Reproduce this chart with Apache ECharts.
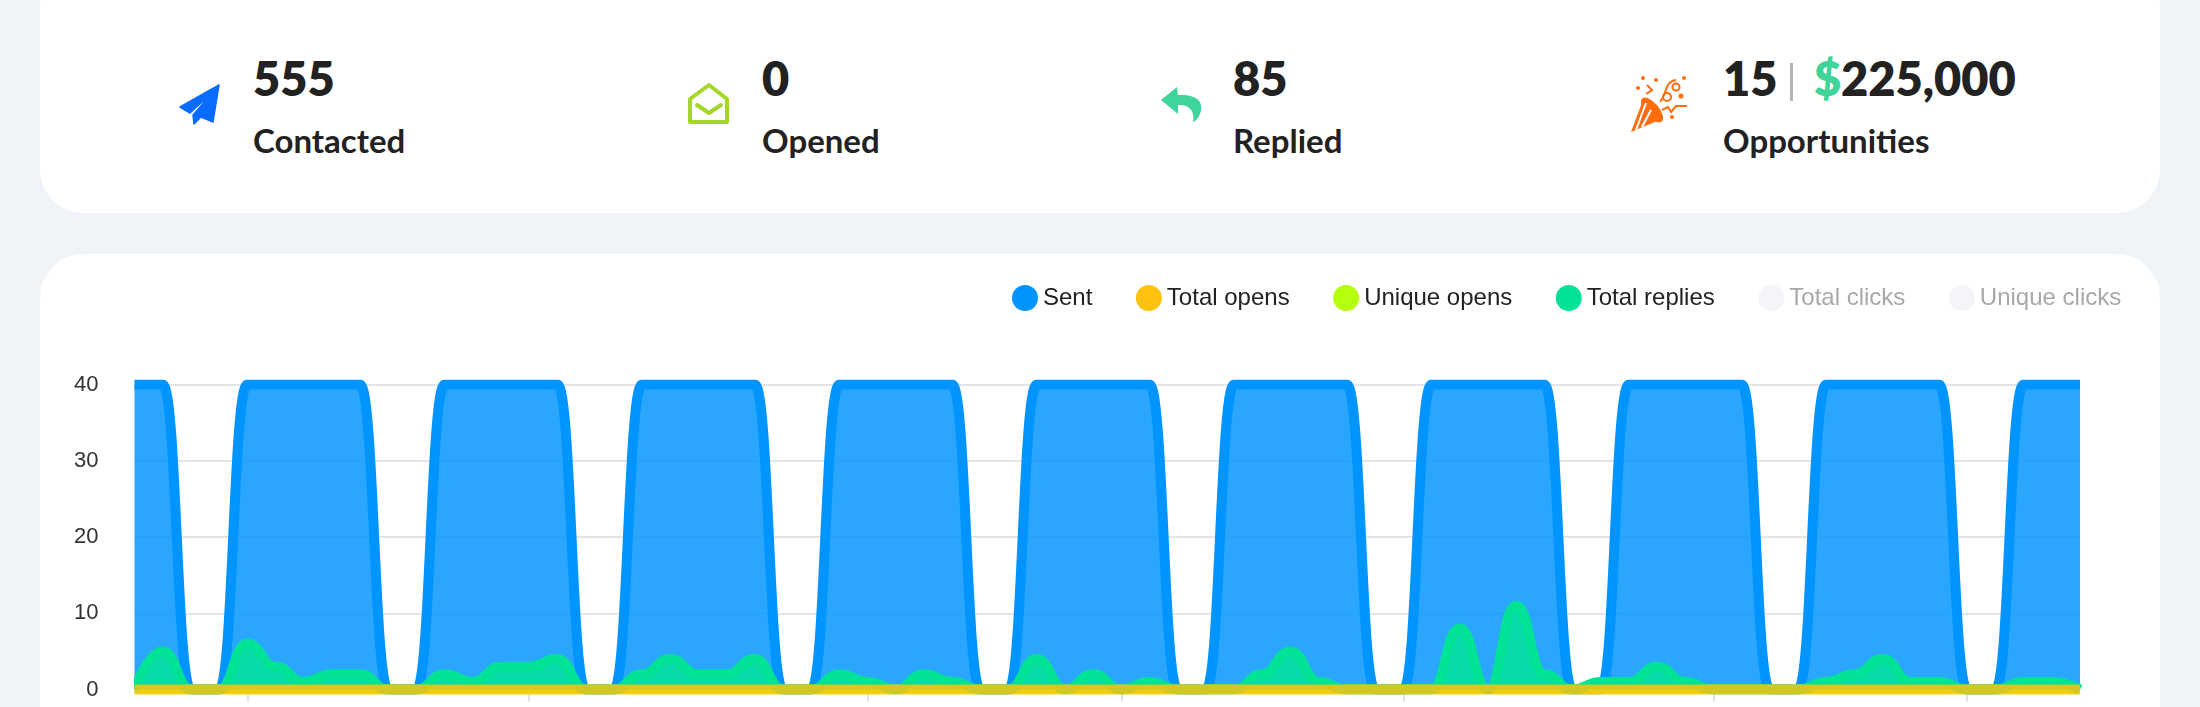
<!DOCTYPE html>
<html><head><meta charset="utf-8">
<script src="https://cdn.jsdelivr.net/npm/echarts@6/dist/echarts.min.js"></script>
<style>
html,body{margin:0;padding:0;width:2200px;height:707px;overflow:hidden;background:#f0f4f9;}
.card{position:absolute;left:40px;width:2120px;background:#fff;border-radius:44px;}
.t{position:absolute;font-family:Lato,sans-serif;font-weight:700;color:#222;white-space:nowrap;line-height:1;}
.num{font-size:47px;top:55px;font-weight:800;}
.lab{font-size:33px;top:124px;}
#chart{position:absolute;left:0;top:0;width:2200px;height:707px;}
svg{position:absolute;left:0;top:0;}
</style></head><body>
<div class="card" style="top:-40px;height:253px"></div>
<div class="card" style="top:254px;height:600px"></div>
<svg width="2200" height="213">
<path d="M219 85 L180 107 L190 113 L213 92 L193 115 L194 124 L201 117 L213 122 Z" fill="#0a6cff" stroke="#0a6cff" stroke-width="1.5" stroke-linejoin="round"/>
<path d="M709 85 L690 99 L690 122 L727 122 L727 99 Z" fill="none" stroke="#a5d62a" stroke-width="4" stroke-linejoin="round"/>
<path d="M697 105 L709 113 L721 105" fill="none" stroke="#a5d62a" stroke-width="4" stroke-linecap="round" stroke-linejoin="round"/>
<path d="M1161 100 L1177 87 L1178 95 C1194 94 1203 100 1201 110 C1200 116 1197 120 1193 122 C1195 112 1190 104 1178 105 L1178 114 Z" fill="#3fd49a"/>
<g fill="#ff6d0d" stroke="none">
<path d="M1631 132 L1643 100 L1662 119 Z"/>
<ellipse cx="1652" cy="110" rx="7" ry="15" transform="rotate(-40 1652 110)"/>
<path d="M1636 130 L1646 103" stroke="#fff" stroke-width="2"/>
<path d="M1642 127 L1651 110" stroke="#fff" stroke-width="2"/>
<circle cx="1638" cy="88" r="2"/><circle cx="1656" cy="80" r="2"/><circle cx="1684" cy="78" r="2"/><circle cx="1672" cy="117" r="2"/><circle cx="1643" cy="78" r="2"/><circle cx="1681" cy="96" r="2.5"/>
</g>
<g fill="none" stroke="#ff6d0d" stroke-width="2">
<path d="M1647 85 L1652 90 L1646 94"/><path d="M1660 102 C1668 92 1664 82 1676 80"/><circle cx="1667" cy="97" r="4"/><circle cx="1676" cy="87" r="3.5"/>
<path d="M1662 110 L1668 107 L1671 112 L1676 106 L1687 106"/>
</g>
<rect x="1790" y="63" width="3" height="38" fill="#b4b4b4"/>
</svg>
<div id="kpi"></div>
<div id="chart"></div>
<script>
const kpiLabels = ["Contacted", "Opened", "Replied", "Opportunities"];
const kpiNumbers = ["555", "0", "85", "15"];
const kpiLefts = [253, 762, 1233, 1723];
const revenueSign = "$";
const revenueValue = "225,000";

const categories = ["1","2","3","4","5","6","7","8","9","10","11","12","13","14","15","16","17","18","19","20","21","22","23","24","25","26","27","28","29","30","31","32","33","34","35","36","37","38","39","40","41","42","43","44","45","46","47","48","49","50","51","52","53","54","55","56","57","58","59","60","61","62","63","64","65","66","67","68","69","70"];
const tickIndexes = [4,14,26,35,45,56,65];
const yTicks = [0,10,20,30,40];
const sent = [40,40,0,0,40,40,40,40,40,0,0,40,40,40,40,40,0,0,40,40,40,40,40,0,0,40,40,40,40,40,0,0,40,40,40,40,40,0,0,40,40,40,40,40,0,0,40,40,40,40,40,0,0,40,40,40,40,40,0,0,40,40,40,40,40,0,0,40,40,40];
const totalOpens = [0,0,0,0,0,0,0,0,0,0,0,0,0,0,0,0,0,0,0,0,0,0,0,0,0,0,0,0,0,0,0,0,0,0,0,0,0,0,0,0,0,0,0,0,0,0,0,0,0,0,0,0,0,0,0,0,0,0,0,0,0,0,0,0,0,0,0,0,0,0];
const uniqueOpens = totalOpens.slice();
const totalReplies = [0,5,0,0,6,3,1,2,2,0,0,2,1,3,3,4,0,0,2,4,2,2,4,0,0,2,1,0,2,1,0,0,4,0,2,0,1,0,0,0,2,5,1,0,0,0,0,8,0,11,2,0,1,1,3,1,0,0,0,0,1,2,4,1,1,0,0,1,1,0];
const totalClicks = totalOpens.slice();
const uniqueClicks = totalOpens.slice();
const legendOrder = ["Sent","Total opens","Unique opens","Total replies","Total clicks","Unique clicks"];
const hiddenSeries = ["Total clicks","Unique clicks"];

const kpi = document.getElementById('kpi');
function addText(cls, left, text, color){
  const d = document.createElement('div');
  d.className = 't ' + cls; d.style.left = left + 'px'; d.textContent = text;
  if(color) d.style.color = color;
  kpi.appendChild(d);
}
kpiLabels.forEach((l,i)=>{ addText('num',kpiLefts[i],kpiNumbers[i]); addText('lab',kpiLefts[i],l); });
addText('num',1814,revenueSign,'#3fd49a');
addText('num',1841,revenueValue);

function line(name,data,color,z,opts){
  return Object.assign({type:'line',name,data,smooth:0.5,smoothMonotone:'x',showSymbol:false,symbol:'none',z,
    itemStyle:{color},lineStyle:{color,width:10,cap:'butt',join:'round'},areaStyle:{color,opacity:0.83},silent:true},opts||{});
}
const selected = {}; hiddenSeries.forEach(n=>selected[n]=false);
const chart = echarts.init(document.getElementById('chart'),null,{renderer:'canvas'});
chart.setOption({
  animation:false,
  backgroundColor:'transparent',
  grid:{left:134.5,right:120,top:384.5,bottom:17.5,containLabel:false},
  legend:{
    left:1007,top:280,icon:'circle',itemWidth:26,itemHeight:26,itemGap:43.5,
    data:legendOrder,selected,inactiveColor:'#f3f5f9',inactiveBorderWidth:0,
    formatter:n=>hiddenSeries.includes(n)?`{off|${n}}`:`{on|${n}}`,
    textStyle:{fontFamily:'Liberation Sans',fontSize:24,rich:{
      on:{fontFamily:'Liberation Sans',fontSize:24,color:'#222'},
      off:{fontFamily:'Liberation Sans',fontSize:24,color:'#a8a8a8'}}}
  },
  xAxis:{type:'category',data:categories,boundaryGap:false,
    axisLine:{show:false},axisLabel:{show:false},
    axisTick:{show:true,length:12,alignWithLabel:true,interval:i=>tickIndexes.includes(i),lineStyle:{color:'#e2e2e6',width:2}},
    splitLine:{show:false}},
  yAxis:{type:'value',min:yTicks[0],max:yTicks[yTicks.length-1],interval:10,
    axisLine:{show:false},axisTick:{show:false},
    axisLabel:{margin:36,fontFamily:'Liberation Sans',fontSize:22,color:'#333'},
    splitLine:{lineStyle:{color:'#e4e4e8',width:2}}},
  graphic:[{type:'rect',z:100,silent:true,shape:{x:122,y:650,width:12,height:50},style:{fill:'#fff'}}],
  series:[
    line('Sent',sent,'#0094ff',2),
    line('Unique opens',uniqueOpens,'#b5ff0e',3),
    line('Total replies',totalReplies,'#00e396',4),
    line('Total opens',totalOpens,'#ffc20e',5,{lineStyle:{color:'#ffc20e',width:10,opacity:0.82}}),
    line('Total clicks',totalClicks,'#f3f5f9',1),
    line('Unique clicks',uniqueClicks,'#f3f5f9',1)
  ]
});
</script>
</body></html>
